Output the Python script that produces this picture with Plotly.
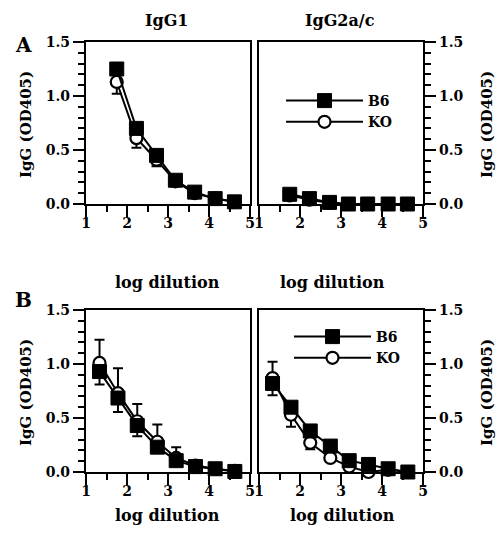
import plotly.graph_objects as go

# ---- data ----
A_x = [1.75, 2.23, 2.72, 3.18, 3.65, 4.15, 4.62]
A_igg1_b6 = [1.25, 0.70, 0.45, 0.22, 0.11, 0.05, 0.02]
A_igg1_ko = [1.13, 0.61, 0.41, 0.21, 0.10, 0.05, 0.02]
A_igg1_ko_minus = [0.11, 0.09, 0.06, 0, 0, 0, 0]
A_igg2_b6 = [0.09, 0.05, 0.015, 0.0, 0.0, 0.0, 0.0]
A_igg2_ko = [0.08, 0.04, 0.01, 0.0, 0.0, 0.0, 0.0]

B_x = [1.33, 1.78, 2.25, 2.74, 3.20, 3.67, 4.15, 4.63]
B_igg1_b6 = [0.93, 0.685, 0.43, 0.23, 0.105, 0.05, 0.03, 0.005]
B_igg1_b6_minus = [0.12, 0.13, 0.10, 0, 0, 0, 0, 0]
B_igg1_ko = [1.01, 0.73, 0.47, 0.28, 0.13, 0.06, 0.03, 0.01]
B_igg1_ko_plus = [0.215, 0.23, 0.16, 0.16, 0.10, 0, 0, 0]
B_igg2_b6 = [0.82, 0.60, 0.38, 0.24, 0.105, 0.07, 0.03, 0.0]
B_igg2_b6_minus = [0.11, 0, 0, 0, 0, 0, 0, 0]
B_igg2_ko = [0.87, 0.53, 0.27, 0.13, 0.05, 0.0, 0.02, 0.0]
B_igg2_ko_plus = [0.15, 0, 0, 0, 0, 0, 0, 0]
B_igg2_ko_minus = [0, 0.11, 0.06, 0, 0, 0, 0, 0]

col_titles = ["IgG1", "IgG2a/c"]
panel_labels = ["A", "B"]
x_title = "log dilution"
y_title = "IgG (OD405)"
series_names = ["B6", "KO"]
x_ticks = [1, 2, 3, 4, 5]
y_ticks = [0.0, 0.5, 1.0, 1.5]

W, H = 497, 538
FONT = "DejaVu Serif"

def px(x):
    return x / W

def py(y):
    return 1 - y / H

fig = go.Figure()

def zeros(n):
    return [0] * n

def add_pair(xa, ya, x, b6, ko, b6_plus=None, b6_minus=None, ko_plus=None, ko_minus=None,
             legend=None):
    n = len(x)
    showleg = legend is not None
    fig.add_trace(go.Scatter(
        x=x, y=ko, xaxis=xa, yaxis=ya, name=series_names[1], mode="lines+markers",
        line=dict(color="black", width=2),
        marker=dict(symbol="circle", size=12, color="white", line=dict(color="black", width=2.2)),
        error_y=dict(type="data", symmetric=False,
                     array=ko_plus or zeros(n), arrayminus=ko_minus or zeros(n),
                     color="black", thickness=2, width=5),
        cliponaxis=False, showlegend=showleg, legend=legend or "legend", legendrank=2,
    ))
    fig.add_trace(go.Scatter(
        x=x, y=b6, xaxis=xa, yaxis=ya, name=series_names[0], mode="lines+markers",
        line=dict(color="black", width=2),
        marker=dict(symbol="square", size=14, color="black", line=dict(color="black", width=1)),
        error_y=dict(type="data", symmetric=False,
                     array=b6_plus or zeros(n), arrayminus=b6_minus or zeros(n),
                     color="black", thickness=2, width=5),
        cliponaxis=False, showlegend=showleg, legend=legend or "legend", legendrank=1,
    ))

add_pair("x", "y", A_x, A_igg1_b6, A_igg1_ko, ko_minus=A_igg1_ko_minus)
add_pair("x2", "y2", A_x, A_igg2_b6, A_igg2_ko, legend="legend")
add_pair("x3", "y3", B_x, B_igg1_b6, B_igg1_ko, b6_minus=B_igg1_b6_minus, ko_plus=B_igg1_ko_plus)
add_pair("x4", "y4", B_x, B_igg2_b6, B_igg2_ko, b6_minus=B_igg2_b6_minus,
         ko_plus=B_igg2_ko_plus, ko_minus=B_igg2_ko_minus, legend="legend2")

tickfont = dict(family=FONT, size=14, color="black", weight="bold")

def xaxis(domain, anchor):
    return dict(domain=domain, anchor=anchor, range=[1, 5], tickvals=x_ticks,
                ticks="outside", ticklen=11, tickwidth=2, tickcolor="black",
                showline=True, linewidth=2.2, linecolor="black", mirror=True,
                showgrid=False, zeroline=False, tickfont=tickfont, automargin=False,
                ticklabelstandoff=-6,
                minor=dict(dtick=0.5, tick0=1, ticks="outside", ticklen=6, tickwidth=2,
                           tickcolor="black", showgrid=False))

def yaxis(domain, anchor, side):
    return dict(domain=domain, anchor=anchor, range=[0, 1.5], tickvals=y_ticks,
                tickformat=".1f", side=side,
                ticks="outside", ticklen=11, tickwidth=2, tickcolor="black",
                showline=True, linewidth=2.2, linecolor="black", mirror=True,
                showgrid=False, zeroline=False, tickfont=tickfont, automargin=False,
                minor=dict(dtick=0.1, tick0=0, ticks="outside", ticklen=6, tickwidth=2,
                           tickcolor="black", showgrid=False))

xl = [px(86), px(250)]
xr = [px(259), px(423)]
yA = [py(204), py(42)]
yB = [py(472), py(310)]

legend_font = dict(family=FONT, size=14, color="black", weight="bold")
fig.update_layout(
    width=W, height=H, margin=dict(l=0, r=0, t=0, b=0, autoexpand=False),
    paper_bgcolor="white", plot_bgcolor="white",
    xaxis=xaxis(xl, "y"), yaxis=yaxis(yA, "x", "left"),
    xaxis2=xaxis(xr, "y2"), yaxis2=yaxis(yA, "x2", "right"),
    xaxis3=xaxis(xl, "y3"), yaxis3=yaxis(yB, "x3", "left"),
    xaxis4=xaxis(xr, "y4"), yaxis4=yaxis(yB, "x4", "right"),
    legend=dict(x=px(281), y=py(85), xanchor="left", yanchor="top",
                bgcolor="rgba(0,0,0,0)", itemwidth=77, traceorder="normal",
                font=legend_font, tracegroupgap=0),
    legend2=dict(x=px(289), y=py(321), xanchor="left", yanchor="top",
                 bgcolor="rgba(0,0,0,0)", itemwidth=77, traceorder="normal",
                 font=legend_font, tracegroupgap=0),
    font=dict(family=FONT, color="black"),
)

ann = []
def text(x, y, s, size, angle=0):
    ann.append(dict(x=px(x), y=py(y), xref="paper", yref="paper", text=s, showarrow=False,
                    xanchor="center", yanchor="middle", textangle=angle,
                    font=dict(family=FONT, size=size, color="black", weight="bold")))

text(166, 21, col_titles[0], 16)
text(340, 21, col_titles[1], 16)
text(23, 45, panel_labels[0], 20)
text(23, 300, panel_labels[1], 20)
text(167, 282, x_title, 16)
text(332, 282, x_title, 16)
text(167, 515, x_title, 16)
text(342, 515, x_title, 16)
for yc in (125, 393):
    text(26, yc, y_title, 15, -90)
    text(487, yc, y_title, 15, -90)
fig.update_layout(annotations=ann)

fig.write_html("out.html", config={"displayModeBar": False},
               post_script="document.body.style.margin='0';document.body.style.padding='0';")
